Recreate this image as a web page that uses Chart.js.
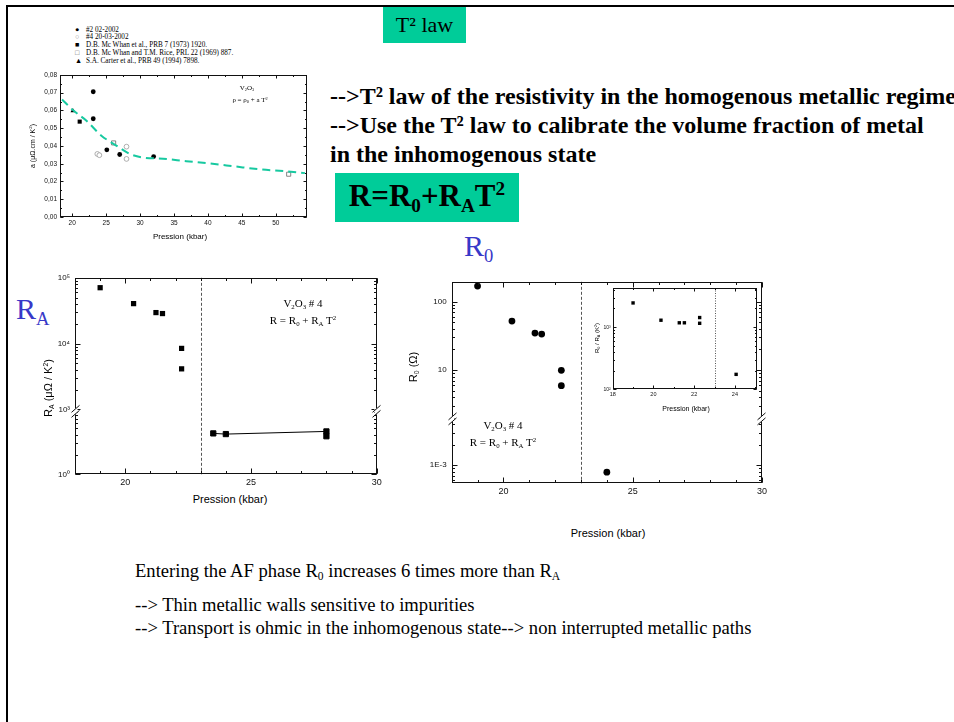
<!DOCTYPE html>
<html>
<head>
<meta charset="utf-8">
<script src="https://cdn.jsdelivr.net/npm/chart.js@4.4.1/dist/chart.umd.min.js"></script>
<style>
  html, body { margin: 0; padding: 0; background: #fff; }
  body { position: relative; width: 954px; height: 722px; overflow: hidden; font-family: "Liberation Serif", "Times New Roman", serif; color: #000; }
  .abs { position: absolute; white-space: nowrap; }
  .c { transform: translate(-50%, -50%); }
  .rot { transform: translate(-50%, -50%) rotate(-90deg); }
  .sans { font-family: "Liberation Sans", Arial, sans-serif; }
  .serif { font-family: "Liberation Serif", "Times New Roman", serif; }
  sub, sup { font-size: 0.62em; line-height: 0; }
  sub { vertical-align: -0.3em; }
  sup { vertical-align: 0.55em; }
  canvas { position: absolute; }
  .green { background: #00cc99; }
  .blue { color: #3838c8; }
  .legend div { position: absolute; white-space: nowrap; font-size: 7.2px; line-height: 7px; }
</style>
</head>
<body>

<!-- slide frame -->
<div class="abs" style="left:6px;top:5px;width:948px;height:2px;background:#000"></div>
<div class="abs" style="left:6px;top:5px;width:2px;height:717px;background:#000"></div>

<div class="abs green serif" style="left:383px;top:7px;width:83px;height:36px;font-size:22px;line-height:36px;text-align:center">T² law</div>

<div class="abs serif" style="left:330px;top:82px;font-weight:bold;font-size:24px;line-height:29px">--&gt;T² law of the resistivity in the homogenous metallic regime<br>--&gt;Use the T² law to calibrate the volume fraction of metal<br>in the inhomogenous state</div>

<div class="abs green serif" style="left:335px;top:173px;width:184px;height:49px;font-weight:bold;font-size:31px;line-height:46px;text-align:center">R=R<sub>0</sub>+R<sub>A</sub>T<sup>2</sup></div>

<div class="abs serif blue" style="left:464px;top:229px;font-size:30px;line-height:34px">R<sub>0</sub></div>
<div class="abs serif blue" style="left:16px;top:292px;font-size:30px;line-height:34px">R<sub>A</sub></div>

<div class="abs serif" style="left:135px;top:560px;font-size:18.6px;line-height:21px">Entering the AF phase R<sub>0</sub> increases 6 times more than R<sub>A</sub></div>
<div class="abs serif" style="left:135px;top:594px;font-size:18.6px;line-height:21px">--&gt; Thin metallic walls sensitive to impurities</div>
<div class="abs serif" style="left:135px;top:617px;font-size:18.6px;line-height:21px">--&gt; Transport is ohmic in the inhomogenous state--&gt; non interrupted metallic paths</div>

<!-- legend of the a(P) plot -->
<div class="legend serif">
  <div style="left:75px;top:26.5px">●</div><div style="left:86px;top:26.5px">#2 02-2002</div>
  <div style="left:75px;top:34.2px;color:#999">○</div><div style="left:86px;top:34.2px">#4 20-03-2002</div>
  <div style="left:75px;top:42px">■</div><div style="left:86px;top:42px">D.B. Mc Whan et al., PRB 7 (1973) 1920.</div>
  <div style="left:75px;top:49.5px;color:#666">□</div><div style="left:86px;top:49.5px">D.B. Mc Whan and T.M. Rice, PRL 22 (1969) 887.</div>
  <div style="left:75px;top:57.5px">▲</div><div style="left:86px;top:57.5px">S.A. Carter et al., PRB 49 (1994) 7898.</div>
</div>

<canvas id="chartA" width="292" height="164" style="left:20px;top:68px"></canvas>
<canvas id="chartRA" width="345" height="222" style="left:40px;top:268px"></canvas>
<canvas id="chartR0" width="360" height="228" style="left:410px;top:272px"></canvas>
<canvas id="chartRatio" width="172" height="120" style="left:590px;top:283px"></canvas>

<!-- axis titles and in-plot notes -->
<div class="abs sans c" style="left:180px;top:236px;font-size:8px">Pression (kbar)</div>
<div class="abs sans rot" style="left:32px;top:146px;font-size:7px">a (μΩ.cm / K<sup>2</sup>)</div>
<div class="abs serif c" style="left:247px;top:88px;font-size:7px">V<sub>2</sub>O<sub>3</sub></div>
<div class="abs serif c" style="left:250px;top:100px;font-size:7px">ρ = ρ<sub>0</sub> + a T<sup>2</sup></div>

<div class="abs sans c" style="left:230px;top:499px;font-size:11px">Pression (kbar)</div>
<div class="abs sans rot" style="left:48px;top:388px;font-size:11px">R<sub>A</sub> (μΩ / K<sup>2</sup>)</div>
<div class="abs serif c" style="left:303px;top:303px;font-size:11px">V<sub>2</sub>O<sub>3</sub> # 4</div>
<div class="abs serif c" style="left:303px;top:320px;font-size:11px">R = R<sub>0</sub> + R<sub>A</sub> T<sup>2</sup></div>

<div class="abs sans c" style="left:608px;top:533px;font-size:11px">Pression (kbar)</div>
<div class="abs sans rot" style="left:413px;top:367px;font-size:11px">R<sub>0</sub> (Ω)</div>
<div class="abs serif c" style="left:503px;top:425px;font-size:11px">V<sub>2</sub>O<sub>3</sub> # 4</div>
<div class="abs serif c" style="left:503px;top:442px;font-size:11px">R = R<sub>0</sub> + R<sub>A</sub> T<sup>2</sup></div>

<div class="abs sans c" style="left:686px;top:408px;font-size:7px">Pression (kbar)</div>
<div class="abs sans rot" style="left:597px;top:338px;font-size:6px">R<sub>0</sub> / R<sub>A</sub> (K<sup>2</sup>)</div>

<script>
// ---- a coefficient of rho = rho0 + a T^2 versus pressure ----
const sample2Pressure = [23.1, 23.1, 25.1, 27.0, 32.0];
const sample2A = [0.0705, 0.0553, 0.0378, 0.0352, 0.0340];
const sample4Pressure = [23.7, 24.0, 28.0, 28.0];
const sample4A = [0.0355, 0.0348, 0.0396, 0.0327];
const mcWhan1973Pressure = [21.1];
const mcWhan1973A = [0.0537];
const mcWhanRicePressure = [26.1, 51.9];
const mcWhanRiceA = [0.0417, 0.0241];
const carterPressure = [20.1];
const carterA = [0.0598];
const guidePressure = [18.5, 20.1, 22.1, 24.3, 26.5, 28.5, 30.4, 33.4, 36.8, 39.8, 43.7, 47.7, 51.6, 54.3];
const guideA = [0.0662, 0.0602, 0.0542, 0.0458, 0.0402, 0.0355, 0.0335, 0.0328, 0.0314, 0.0303, 0.0286, 0.0268, 0.0257, 0.0247];
const aTicks = [0, 0.01, 0.02, 0.03, 0.04, 0.05, 0.06, 0.07, 0.08];
const widePressureTicks = [20, 25, 30, 35, 40, 45, 50];

// ---- sample #4 : R = R0 + RA T^2 ----
const insulatingPressure = [19.0, 20.33, 21.22, 21.48, 22.24, 22.24];
const raInsulating = [70700, 40500, 29600, 28600, 8450, 4130];   // µΩ/K²
const metalPressure = [23.5, 24.0, 28.0, 28.0];
const raMetal = [4.2, 4.1, 4.5, 3.8];                            // µΩ/K²
const r0Insulating = [169, 51.9, 34.7, 33.6, 9.9, 5.9];           // Ω
const r0MetalPressure = [24.0];
const r0Metal = [0.00079];                                       // Ω
const ratioPressure = [19.0, 20.37, 21.27, 21.52, 22.27, 22.27, 24.06];
const ratioR0RA = [2455, 1294, 1176, 1176, 1428, 1155, 174];     // K²
const transitionPressure = 23;
const pressureTicks = [20, 25, 30];
const insetPressureTicks = [18, 20, 22, 24];
const raDecadesHigh = [1e3, 1e4, 1e5];
const raDecadesLow = [1];
const r0DecadesHigh = [10, 100];
const r0DecadesLow = [1e-3];
const ratioDecades = [100, 1000];

Chart.defaults.animation = false;
Chart.defaults.font.family = '"Liberation Sans", Arial, sans-serif';
Chart.defaults.color = '#111';

const pairs = (xs, ys) => xs.map((x, i) => ({x, y: ys[i]}));
const supDigits = {'0':'⁰','1':'¹','2':'²','3':'³','4':'⁴','5':'⁵','6':'⁶','7':'⁷','8':'⁸','9':'⁹','-':'⁻'};
const powLabel = v => '10' + String(Math.round(Math.log10(v))).split('').map(c => supDigits[c]).join('');
function logMinor(min, max) {
  const out = [];
  for (let k = Math.floor(Math.log10(min)); k <= Math.ceil(Math.log10(max)); k++) {
    for (let m = 1; m < 10; m++) {
      const v = m * Math.pow(10, k);
      if (v >= min * 0.999 && v <= max * 1.001) out.push(v);
    }
  }
  return out;
}
function steps(min, max, step) {
  const out = [];
  for (let v = Math.ceil(min / step - 1e-9) * step; v <= max + 1e-9; v += step) out.push(+v.toFixed(6));
  return out;
}

// Fixed scale: no grid, no default border, tick values supplied explicitly.
function scale(opts) {
  const {values, fontSize, pad, fit, format, ...rest} = opts;
  return Object.assign({
    grid: {display: false, drawTicks: false},
    border: {display: false},
    ticks: {
      autoSkip: false, maxRotation: 0, padding: pad,
      font: {size: fontSize}, color: '#111',
      callback: format
    },
    afterBuildTicks: s => { s.ticks = values.map(v => ({value: v})); },
    afterFit: fit
  }, rest);
}

// Box frame, inward tick marks on all four sides, axis break marks and phase boundary line.
const framePlugin = {
  id: 'frame',
  beforeDatasetsDraw(chart, args, o) {
    if (o.boundary == null) return;
    const ctx = chart.ctx, a = chart.chartArea;
    const px = Math.round(chart.scales.x.getPixelForValue(o.boundary)) + 0.5;
    ctx.save();
    ctx.strokeStyle = '#555';
    ctx.lineWidth = 1;
    ctx.setLineDash(o.boundaryDash);
    ctx.beginPath(); ctx.moveTo(px, a.top); ctx.lineTo(px, a.bottom); ctx.stroke();
    ctx.restore();
  },
  afterDatasetsDraw(chart, args, o) {
    const ctx = chart.ctx, a = chart.chartArea;
    const L = Math.round(a.left) + 0.5, R = Math.round(a.right) - 0.5;
    const T = Math.round(a.top) + 0.5, B = Math.round(a.bottom) - 0.5;
    ctx.save();
    ctx.strokeStyle = '#111';
    ctx.lineWidth = 1;
    const seg = (x1, y1, x2, y2) => { ctx.beginPath(); ctx.moveTo(x1, y1); ctx.lineTo(x2, y2); ctx.stroke(); };
    ctx.strokeRect(L, T, R - L, B - T);
    const xs = chart.scales.x;
    const xt = (vals, len) => vals.forEach(v => {
      const p = Math.round(xs.getPixelForValue(v)) + 0.5;
      seg(p, B, p, B - len); seg(p, T, p, T + len);
    });
    xt(o.xMajor || [], o.major);
    xt(o.xMinor || [], o.minor);
    (o.y || []).forEach(spec => {
      const s = chart.scales[spec.id];
      const yt = (vals, len) => vals.forEach(v => {
        const p = Math.round(s.getPixelForValue(v)) + 0.5;
        if (p < T - 1 || p > B + 1) return;
        seg(L, p, L + len, p); seg(R, p, R - len, p);
      });
      yt(spec.major, o.major);
      yt(spec.minor, o.minor);
    });
    if (o.breakAfter) {
      const y = chart.scales[o.breakAfter].bottom;
      [L, R].forEach(x => {
        ctx.fillStyle = '#fff';
        ctx.fillRect(x - 2, y - 3, 4, 6);
        seg(x - 4, y + 1, x + 4, y - 6);
        seg(x - 4, y + 6, x + 4, y - 1);
      });
    }
    ctx.restore();
  }
};
Chart.register(framePlugin);

const sq = (data, yAxisID, r, extra) => Object.assign({data, yAxisID, pointStyle: 'rect', pointRadius: r, pointHoverRadius: r,
  backgroundColor: '#000', borderColor: '#000', borderWidth: 0, showLine: false}, extra || {});

// ---------- a(P) ----------
new Chart(document.getElementById('chartA'), {
  type: 'scatter',
  data: {
    datasets: [
      {data: pairs(guidePressure, guideA), showLine: true, borderColor: '#17c9a0', borderWidth: 2, borderDash: [8, 5],
       pointRadius: 0, cubicInterpolationMode: 'monotone', fill: false},
      {data: pairs(sample2Pressure, sample2A), pointStyle: 'circle', pointRadius: 2.4, backgroundColor: '#000', borderColor: '#000', borderWidth: 0},
      {data: pairs(sample4Pressure, sample4A), pointStyle: 'circle', pointRadius: 2.4, backgroundColor: '#fff', borderColor: '#9a9a9a', borderWidth: 0.8},
      {data: pairs(mcWhan1973Pressure, mcWhan1973A), pointStyle: 'rect', pointRadius: 2.9, backgroundColor: '#000', borderWidth: 0},
      {data: pairs(mcWhanRicePressure, mcWhanRiceA), pointStyle: 'rect', pointRadius: 2.9, backgroundColor: '#fff', borderColor: '#666', borderWidth: 0.8},
      {data: pairs(carterPressure, carterA), pointStyle: 'triangle', pointRadius: 2.8, backgroundColor: '#000', borderWidth: 0}
    ]
  },
  options: {
    responsive: false, clip: false,
    layout: {padding: {left: 0, right: 5, top: 6, bottom: 0}},
    plugins: {legend: {display: false}, tooltip: {enabled: false},
      frame: {major: 3, minor: 1.5, xMajor: widePressureTicks, xMinor: steps(18.2, 54.6, 2.5),
        y: [{id: 'y', major: aTicks, minor: steps(0, 0.08, 0.005)}]}},
    scales: {
      x: scale({type: 'linear', min: 18.2, max: 54.6, values: widePressureTicks, fontSize: 6.5, pad: 2,
        fit: s => { s.height = 15; }, format: v => String(v)}),
      y: scale({type: 'linear', min: 0, max: 0.08, values: aTicks, fontSize: 6.5, pad: 3,
        fit: s => { s.width = 40; }, format: v => v.toFixed(2).replace('.', ',')})
    }
  }
});

// ---------- RA(P), broken log axis (lower segment listed first: stacked left axes fill from the top in reverse order) ----------
new Chart(document.getElementById('chartRA'), {
  type: 'scatter',
  data: {
    datasets: [
      sq(pairs(insulatingPressure, raInsulating), 'yHigh', 3.7),
      sq(pairs(metalPressure, raMetal), 'yLow', 3.7, {showLine: true, borderWidth: 1})
    ]
  },
  options: {
    responsive: false, clip: false,
    layout: {padding: {left: 0, right: 8.3, top: 8.7, bottom: 0}},
    plugins: {legend: {display: false}, tooltip: {enabled: false},
      frame: {major: 5, minor: 2.5, boundary: transitionPressure, boundaryDash: [3, 2],
        xMajor: pressureTicks, xMinor: steps(18, 30, 1), breakAfter: 'yHigh',
        y: [{id: 'yHigh', major: raDecadesHigh, minor: logMinor(933, 1e5)},
            {id: 'yLow', major: raDecadesLow, minor: logMinor(1, 9.1)}]}},
    scales: {
      x: scale({type: 'linear', min: 18, max: 30, values: pressureTicks, fontSize: 9, pad: 3,
        fit: s => { s.height = 15.7; }, format: v => String(v)}),
      yLow: scale({type: 'logarithmic', position: 'left', stack: 'ra', stackWeight: 63.3, min: 1, max: 9.1,
        values: raDecadesLow, fontSize: 8, pad: 5, fit: s => { s.width = 35; }, format: powLabel}),
      yHigh: scale({type: 'logarithmic', position: 'left', stack: 'ra', stackWeight: 134.3, min: 933, max: 1e5,
        values: raDecadesHigh, fontSize: 8, pad: 5, fit: s => { s.width = 35; }, format: powLabel})
    }
  }
});

// ---------- R0(P), broken log axis ----------
new Chart(document.getElementById('chartR0'), {
  type: 'scatter',
  data: {
    datasets: [
      {data: pairs(insulatingPressure, r0Insulating), yAxisID: 'yHigh', pointStyle: 'circle', pointRadius: 3.4, backgroundColor: '#000', borderWidth: 0},
      {data: pairs(r0MetalPressure, r0Metal), yAxisID: 'yLow', pointStyle: 'circle', pointRadius: 3.4, backgroundColor: '#000', borderWidth: 0}
    ]
  },
  options: {
    responsive: false, clip: false,
    layout: {padding: {left: 0, right: 7.3, top: 8, bottom: 0}},
    plugins: {legend: {display: false}, tooltip: {enabled: false},
      frame: {major: 5, minor: 2.5, boundary: transitionPressure, boundaryDash: [3, 2],
        xMajor: pressureTicks, xMinor: steps(18, 30, 1), breakAfter: 'yHigh',
        y: [{id: 'yHigh', major: r0DecadesHigh, minor: logMinor(1.93, 195)},
            {id: 'yLow', major: r0DecadesLow, minor: logMinor(5.43e-4, 4.75e-3)}]}},
    scales: {
      x: scale({type: 'linear', min: 18, max: 30, values: pressureTicks, fontSize: 9, pad: 3,
        fit: s => { s.height = 16.7; }, format: v => String(v)}),
      yLow: scale({type: 'logarithmic', position: 'left', stack: 'r0', stackWeight: 65, min: 5.43e-4, max: 4.75e-3,
        values: r0DecadesLow, fontSize: 8, pad: 5, fit: s => { s.width = 41.7; }, format: () => '1E-3'}),
      yHigh: scale({type: 'logarithmic', position: 'left', stack: 'r0', stackWeight: 138.3, min: 1.93, max: 195,
        values: r0DecadesHigh, fontSize: 8, pad: 5, fit: s => { s.width = 41.7; }, format: v => String(v)})
    }
  }
});

// ---------- inset: R0 / RA ----------
new Chart(document.getElementById('chartRatio'), {
  type: 'scatter',
  data: {datasets: [sq(pairs(ratioPressure, ratioR0RA), 'y', 2.4)]},
  options: {
    responsive: false, clip: false,
    layout: {padding: {left: 0, right: 4.7, top: 4.3, bottom: 0}},
    plugins: {legend: {display: false}, tooltip: {enabled: false},
      frame: {major: 3, minor: 1.5, boundary: transitionPressure, boundaryDash: [1, 1.5],
        xMajor: insetPressureTicks, xMinor: steps(18, 25.1, 1),
        y: [{id: 'y', major: ratioDecades, minor: logMinor(100, 4270)}]}},
    scales: {
      x: scale({type: 'linear', min: 18, max: 25.1, values: insetPressureTicks, fontSize: 5.5, pad: 2,
        fit: s => { s.height = 13.7; }, format: v => String(v)}),
      y: scale({type: 'logarithmic', min: 100, max: 4270, values: ratioDecades, fontSize: 5, pad: 2,
        fit: s => { s.width = 22.7; }, format: powLabel})
    }
  }
});
</script>
</body>
</html>
